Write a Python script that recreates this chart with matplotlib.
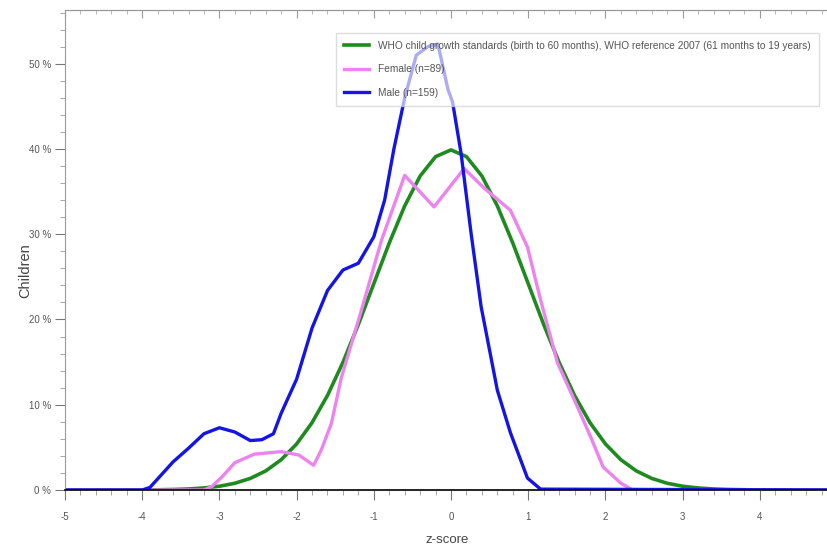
import numpy as np
import matplotlib.pyplot as plt
from matplotlib.ticker import MultipleLocator, FuncFormatter

plt.rcParams['font.family'] = ['Liberation Sans', 'DejaVu Sans']

# --- DATA ---
who_z = [-5.0, -4.0, -3.8, -3.6, -3.4, -3.2, -3.0, -2.8, -2.6, -2.4, -2.2, -2.0,
         -1.8, -1.6, -1.4, -1.2, -1.0, -0.8, -0.6, -0.4, -0.2, 0.0,
         0.2, 0.4, 0.6, 0.8, 1.0, 1.2, 1.4, 1.6, 1.8, 2.0, 2.2, 2.4,
         2.6, 2.8, 3.0, 3.2, 3.4, 3.6, 3.8, 4.0, 5.0]
who_pct = [0.0, 0.01, 0.03, 0.06, 0.12, 0.24, 0.44, 0.79, 1.36, 2.24, 3.55, 5.40,
           7.90, 11.09, 14.97, 19.42, 24.20, 28.97, 33.32, 36.83, 39.10, 39.89,
           39.10, 36.83, 33.32, 28.97, 24.20, 19.42, 14.97, 11.09, 7.90, 5.40, 3.55, 2.24,
           1.36, 0.79, 0.44, 0.24, 0.12, 0.06, 0.03, 0.01, 0.0]

female_z = [-5.0, -3.2, -3.1, -2.97, -2.8, -2.55, -2.2, -1.97, -1.78, -1.68, -1.55,
            -1.42, -1.16, -0.9, -0.6, -0.22, 0.17, 0.43, 0.77, 0.99, 1.16, 1.38,
            1.64, 1.81, 1.97, 2.2, 2.35, 5.0]
female_pct = [0.0, 0.0, 0.4, 1.5, 3.2, 4.2, 4.5, 4.1, 2.9, 4.7, 7.8,
              13.2, 21.1, 29.3, 36.9, 33.2, 37.7, 35.4, 32.8, 28.5, 22.3, 14.9,
              9.7, 6.2, 2.7, 0.8, 0.0, 0.0]

male_z = [-5.0, -4.0, -3.9, -3.8, -3.6, -3.4, -3.2, -3.0, -2.8, -2.6, -2.45, -2.3,
          -2.2, -2.0, -1.8, -1.6, -1.4, -1.2, -1.0, -0.86, -0.74, -0.6, -0.45, -0.3,
          -0.17, -0.04, 0.02, 0.13, 0.26, 0.39, 0.6, 0.77, 0.99, 1.16, 5.0]
male_pct = [0.0, 0.0, 0.3, 1.3, 3.3, 4.9, 6.6, 7.3, 6.8, 5.8, 5.9, 6.6,
            9.0, 13.0, 19.0, 23.4, 25.8, 26.6, 29.7, 34.0, 40.0, 46.0, 51.0, 52.0,
            52.3, 47.0, 45.5, 39.5, 30.1, 21.5, 11.7, 6.7, 1.4, 0.1, 0.0]

labels = ['WHO child growth standards (birth to 60 months), WHO reference 2007 (61 months to 19 years)',
          'Female (n=89)', 'Male (n=159)']

# --- FIGURE ---
fig = plt.figure(figsize=(8.27, 5.48), dpi=100)
ax = fig.add_axes([65/827, 1 - 490/548, 1 - 65/827, 480/548])

ax.plot(who_z, who_pct, color='#1f8a1f', lw=2.6, label=labels[0])
ax.plot(female_z, female_pct, color='#ee82ee', lw=2.4, label=labels[1])
ax.plot(male_z, male_pct, color='#1414e6', lw=2.4, label=labels[2])

ax.set_xlim(-5, 4.87)
ax.set_ylim(0, 56.3)

ax.xaxis.set_major_locator(MultipleLocator(1))
ax.xaxis.set_minor_locator(MultipleLocator(0.2))
ax.yaxis.set_major_locator(MultipleLocator(10))
ax.yaxis.set_minor_locator(MultipleLocator(2))
ax.yaxis.set_major_formatter(FuncFormatter(lambda v, p: f'{v:.0f} %'))
ax.xaxis.set_major_formatter(FuncFormatter(lambda v, p: f'{v:.0f}'))

ax.tick_params(axis='both', which='major', direction='out', length=7, width=0.8,
               color='#777777', labelcolor='#555555', labelsize=7)
ax.tick_params(axis='both', which='minor', direction='out', length=3.5, width=0.6,
               color='#999999')
ax.tick_params(axis='x', which='major', pad=9)
ax.tick_params(axis='y', which='major', pad=3)

ax.spines['right'].set_visible(False)
ax.spines['left'].set_color('#999999')
ax.spines['bottom'].set_color('black')
ax.spines['bottom'].set_linewidth(1.2)
ax.spines['top'].set_color('#999999')

# top frame with inward ticks, no labels
top = ax.secondary_xaxis('top')
top.xaxis.set_major_locator(MultipleLocator(1))
top.xaxis.set_minor_locator(MultipleLocator(0.2))
top.tick_params(axis='x', which='major', direction='in', length=6, color='#999999',
                labeltop=False)
top.tick_params(axis='x', which='minor', direction='in', length=3, color='#aaaaaa')
top.spines['top'].set_color('#999999')

ax.set_xlabel('z-score', fontsize=9.5, color='#444444')
ax.set_ylabel('Children', fontsize=10.5, color='#444444')
ax.xaxis.set_label_coords(0.501, -0.092)
ax.yaxis.set_label_coords(-0.043, 0.458)

leg = ax.legend(loc='upper right', bbox_to_anchor=(0.989, 0.953), fontsize=7.3,
                frameon=True, fancybox=False, framealpha=0.65, edgecolor='#cccccc',
                handlelength=2.4, handletextpad=0.9, labelspacing=1.35,
                borderpad=0.8, borderaxespad=0)
for t in leg.get_texts():
    t.set_color('#555555')

plt.savefig('out.png', dpi=100)
